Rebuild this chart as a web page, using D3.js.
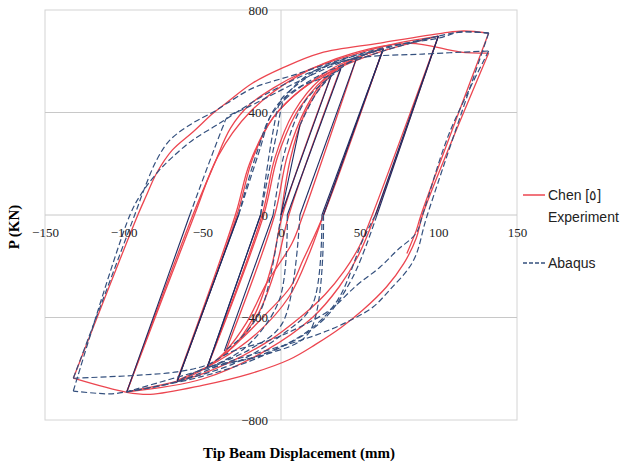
<!DOCTYPE html>
<html>
<head>
<meta charset="utf-8">
<script src="https://cdn.jsdelivr.net/npm/d3@7"></script>
<style>
  body { margin: 0; background: #fff; }
</style>
</head>
<body>
<script>
// tick values
const xTicks = [-150, -100, -50, 0, 50, 100, 150];
const yTicks = [-800, -400, 0, 400, 800];
const gridY = [-400, 0, 400];

// Chen [5] experiment, one branch per half cycle, [displacement mm, load kN]
const chenBranches = [
  [[0, 0], [6, 220], [14, 380], [24, 490], [32, 546]],
  [[32, 546], [1, 0], [-6, -200], [-16, -380], [-27, -490], [-36, -545]],
  [[-36, -545], [-4, 0], [4, 230], [16, 420], [28, 530], [38, 575]],
  [[38, 575], [5, 0], [-3, -200], [-14, -380], [-28, -500], [-47, -594]],
  [[-47, -594], [-12, 0], [-4, 220], [8, 400], [25, 530], [48, 612]],
  [[48, 612], [14, 0], [7, -110], [-9, -265], [-22, -421], [-35, -530], [-47, -596]],
  [[-47, -596], [-11, 0], [-2, 230], [12, 420], [35, 570], [65, 652]],
  [[65, 652], [27, 0], [14, -176], [6, -281], [-9, -383], [-26, -488], [-47, -594], [-66, -650]],
  [[-66, -650], [-28, 0], [-18, 220], [-5, 380], [15, 500], [40, 595], [65, 648]],
  [[65, 648], [27, 0], [18, -150], [5, -320], [-15, -460], [-40, -570], [-66, -645]],
  [[-66, -645], [-29, 0], [-20, 200], [-5, 380], [20, 520], [55, 620], [100, 698]],
  [[100, 698], [58, 0], [50, -120], [40, -220], [28, -310], [14, -390], [-10, -500], [-50, -620], [-98, -690]],
  [[-98, -690], [-56, 0], [-43, 190], [-32, 340], [-20, 430], [-5, 495], [15, 560], [40, 615], [70, 665], [100, 698]],
  [[100, 698], [60, 0], [49, -160], [37, -280], [20, -400], [-10, -530], [-50, -640], [-98, -690]],
  [[-98, -690], [-55, 0], [-40, 230], [-20, 400], [10, 540], [45, 630], [82, 670], [114, 636], [132, 632]],
  [[132, 632], [90, 0], [86, -90], [78, -190], [67, -281], [52, -371], [38, -440], [22, -505], [5, -565], [-20, -620], [-50, -665], [-83, -700], [-98, -692], [-132, -637]],
  [[-132, -637], [-91, 0], [-86, 70], [-79, 164], [-69, 254], [-56, 324], [-43, 398], [-34, 441], [-18, 515], [1, 574], [25, 632], [63, 671], [103, 710], [116, 718], [132, 710]],
  [[132, 710], [89, 0], [86, -60], [80, -150]]
];

// Abaqus model
const abaqusBranches = [
  [[0, 0], [12, 350], [22, 470], [32, 546]],
  [[32, 546], [0, 0], [-12, -360], [-24, -470], [-36, -530]],
  [[-36, -530], [-5, 0], [3, 260], [16, 450], [38, 570]],
  [[38, 570], [4, 0], [-1, -330], [-23, -519], [-47, -597]],
  [[-47, -597], [-13, 0], [-3, 310], [3, 460], [22, 565], [48, 612]],
  [[48, 612], [12, 0], [1, -421], [-20, -525], [-47, -597]],
  [[-47, -597], [-13, 0], [-1, 437], [2.5, 468], [30, 585], [65, 648]],
  [[65, 648], [27, 0], [18, -457], [-10, -545], [-47, -595], [-66, -650]],
  [[-66, -650], [-27, 0], [-13, 265], [-7, 383], [-0.6, 441], [12, 500], [31, 546], [48, 612], [65, 648]],
  [[65, 648], [26, 0], [20, -350], [0, -470], [-30, -580], [-66, -650]],
  [[-66, -650], [-27, 0], [-15, 250], [-5, 400], [20, 530], [65, 640], [100, 698]],
  [[100, 698], [60, 0], [52, -98], [36, -332], [18, -449], [-10, -540], [-47, -600], [-98, -690]],
  [[-98, -690], [-58, 0], [-37, 343], [-34, 382], [-22, 418], [31, 578], [65, 648], [100, 698], [114, 714], [132, 710]],
  [[100, 698], [61, 0], [45, -250], [25, -420], [-10, -545], [-50, -630], [-98, -690]],
  [[132, 710], [93, 0], [84, -180], [69, -293], [58.5, -359], [46, -405], [31, -448], [12, -490], [-10, -530], [-32, -570], [-66, -650], [-98, -690], [-109, -698], [-132, -687]],
  [[-132, -687], [-96, 0], [-88, 90], [-78, 170], [-69, 226], [-56, 293], [-43, 343], [-34, 378], [-10, 470], [20, 560], [48, 612], [90, 628], [132, 640]],
  [[132, 640], [107, 320], [90, 0], [86, -70], [74, -137], [63, -203], [48, -275], [31, -371], [12, -437], [-7, -488], [-32, -535], [-47, -585], [-66, -612], [-90, -625], [-132, -637]],
  [[-132, -637], [-93, 0], [-87, 100], [-79, 215], [-70.5, 293], [-56, 359], [-43, 402], [-34, 437], [-18, 495], [8, 546], [40, 610], [70, 660], [100, 690], [114, 714], [132, 710]]
];

const W = 622, H = 463;
const svg = d3.select("body").append("svg")
  .attr("width", W)
  .attr("height", H);

const x = d3.scaleLinear().domain([-150, 150]).range([45, 517]);
const y = d3.scaleLinear().domain([-800, 800]).range([420, 10]);

// plot frame and grid
svg.append("rect")
  .attr("x", x(-150)).attr("y", y(800))
  .attr("width", x(150) - x(-150)).attr("height", y(-800) - y(800))
  .attr("fill", "none").attr("stroke", "#d4d4d4");

svg.selectAll(".gy").data(gridY).enter().append("line")
  .attr("x1", x(-150)).attr("x2", x(150))
  .attr("y1", d => y(d)).attr("y2", d => y(d))
  .attr("stroke", "#c8c8c8");

svg.append("line")
  .attr("x1", x(0)).attr("x2", x(0))
  .attr("y1", y(800)).attr("y2", y(-800))
  .attr("stroke", "#d0d0d0");

// curves
const smooth = d3.line().x(d => x(d[0])).y(d => y(d[1])).curve(d3.curveCatmullRom.alpha(0.5));
const straight = d3.line().x(d => x(d[0])).y(d => y(d[1]));

svg.append("g").selectAll("path").data(chenBranches).enter().append("path")
  .attr("d", smooth)
  .attr("fill", "none")
  .attr("stroke", "#ec4650")
  .attr("stroke-width", 1.3);

// Abaqus: elastic unloading leg solid up to 100 mm cycles, rest dashed
const abq = svg.append("g");
abaqusBranches.forEach(b => {
  const solidLeg = Math.abs(b[0][0]) <= 100;
  abq.append("path")
    .attr("d", smooth(solidLeg ? b.slice(1) : b))
    .attr("fill", "none")
    .attr("stroke", "#34507e")
    .attr("stroke-width", 1.2)
    .attr("stroke-dasharray", "6,3");
  if (solidLeg) {
    abq.append("path")
      .attr("d", straight(b.slice(0, 2)))
      .attr("fill", "none")
      .attr("stroke", "#1e2b62")
      .attr("stroke-width", 1.1);
  }
});

// axes
const serif = "'Liberation Serif', 'Times New Roman', serif";
const yAxis = d3.axisLeft(y).tickValues(yTicks).tickSize(0).tickPadding(13);
svg.append("g")
  .attr("transform", "translate(" + x(0) + ",0)")
  .call(yAxis)
  .call(g => g.select(".domain").remove())
  .call(g => g.selectAll("text").style("font-family", serif).style("font-size", "13px").style("fill", "#222"));

const xAxis = d3.axisBottom(x).tickValues(xTicks).tickSize(0).tickPadding(13);
svg.append("g")
  .attr("transform", "translate(0," + y(0) + ")")
  .call(xAxis)
  .call(g => g.select(".domain").remove())
  .call(g => g.selectAll("text").style("font-family", serif).style("font-size", "13px").style("fill", "#222"));

// axis titles
svg.append("text")
  .attr("x", 299).attr("y", 458)
  .attr("text-anchor", "middle")
  .style("font-family", serif)
  .style("font-weight", "bold")
  .style("font-size", "15px")
  .text("Tip Beam Displacement (mm)");

svg.append("text")
  .attr("transform", "translate(19,227) rotate(-90)")
  .attr("text-anchor", "middle")
  .style("font-family", serif)
  .style("font-weight", "bold")
  .style("font-size", "15px")
  .text("P (KN)");

// legend
const legend = svg.append("g")
  .style("font-family", "'Liberation Sans', Arial, sans-serif")
  .style("font-size", "14px")
  .style("fill", "#222");

legend.append("line")
  .attr("x1", 523).attr("x2", 545).attr("y1", 195).attr("y2", 195)
  .attr("stroke", "#ec4650").attr("stroke-width", 1.5);
legend.append("text").attr("x", 548).attr("y", 200).text("Chen [٥]");
legend.append("text").attr("x", 548).attr("y", 222).text("Experiment");

legend.append("line")
  .attr("x1", 523).attr("x2", 545).attr("y1", 263).attr("y2", 263)
  .attr("stroke", "#34507e").attr("stroke-width", 1.3)
  .attr("stroke-dasharray", "4,2");
legend.append("text").attr("x", 548).attr("y", 268).text("Abaqus");
</script>
</body>
</html>
